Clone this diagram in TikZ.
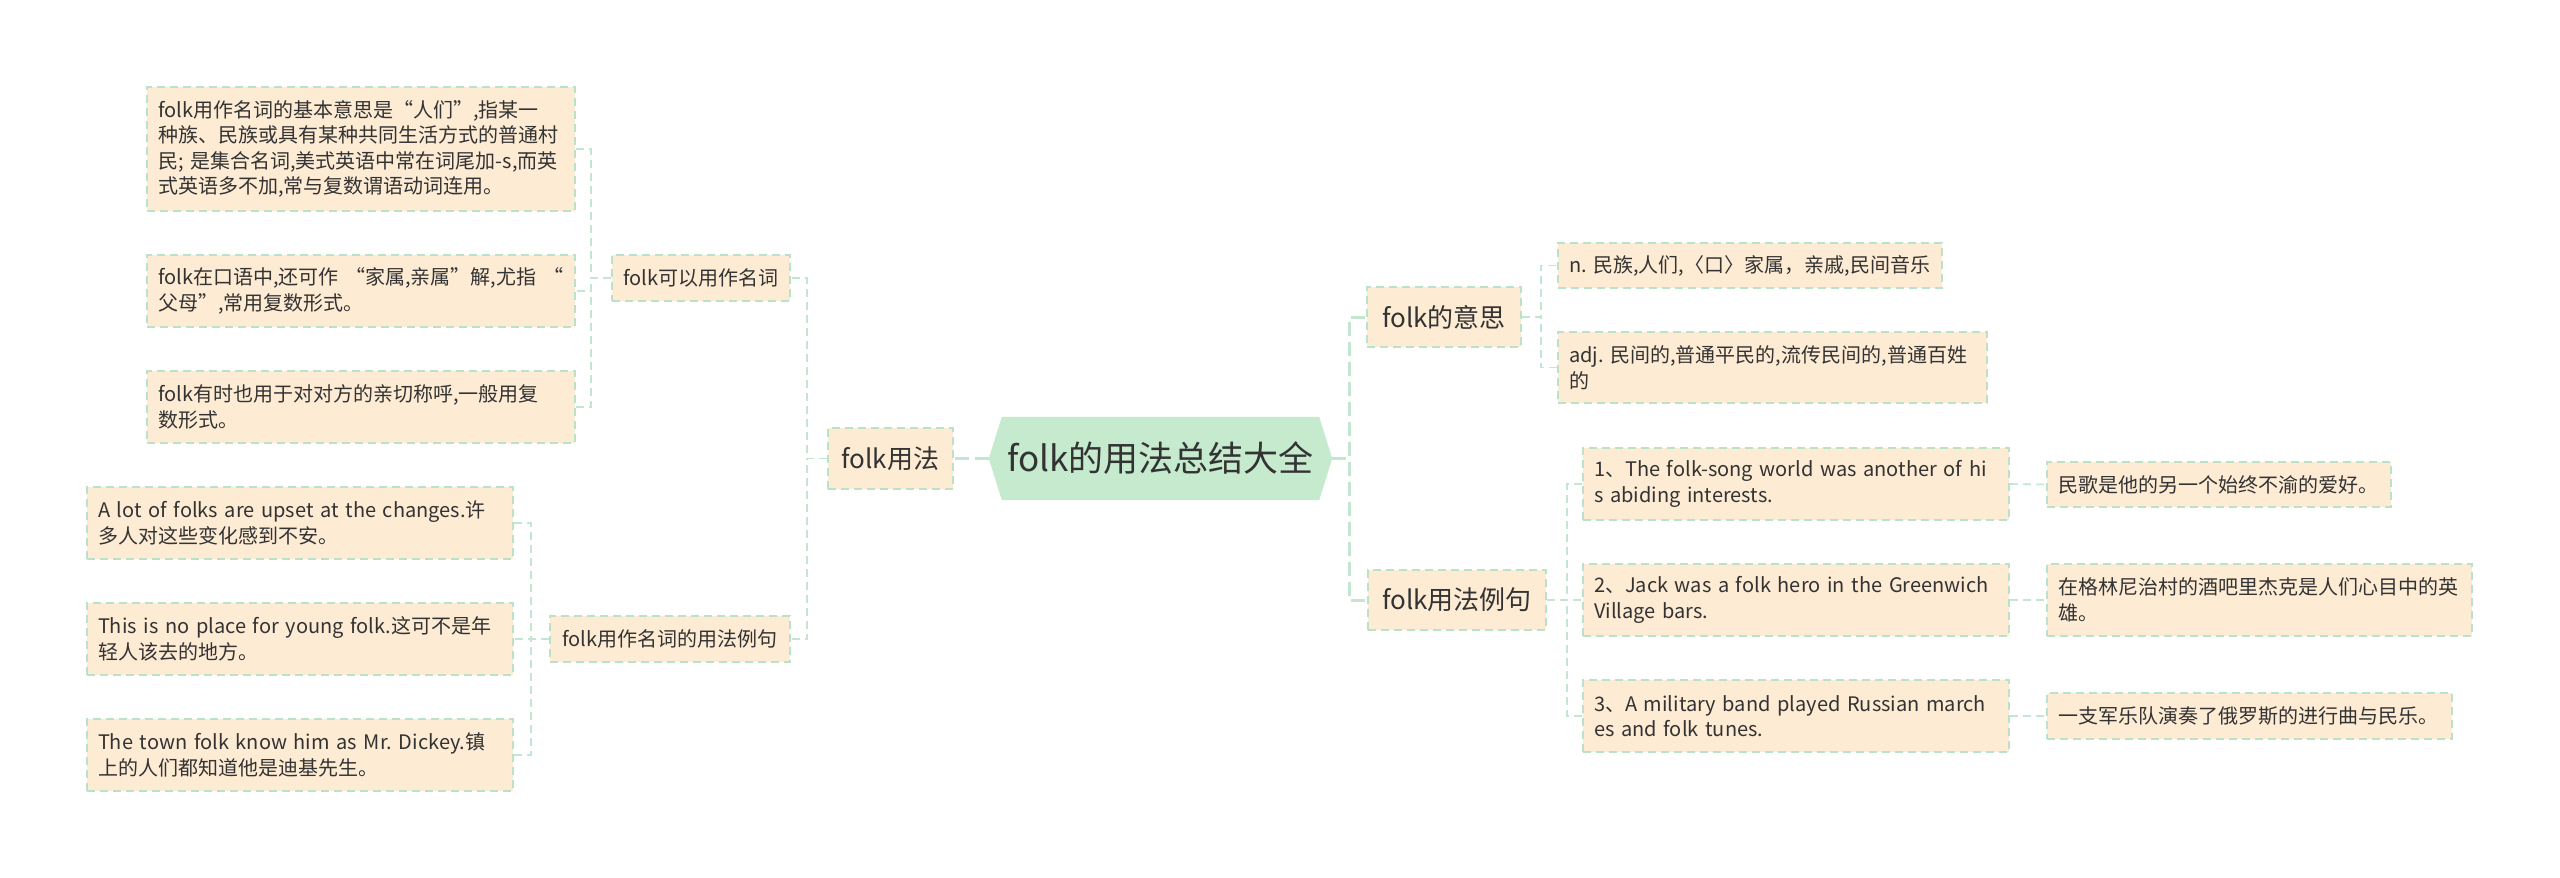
\documentclass[tikz,border=0pt]{standalone}
\usepackage{fontspec}
\setmainfont{Noto Sans CJK SC}
\frenchspacing
\definecolor{boxfill}{HTML}{FDEBD4}
\definecolor{boxline}{HTML}{B9E2C8}
\definecolor{conn}{HTML}{C2E6CF}
\definecolor{hexfill}{HTML}{C5EACE}
\definecolor{txt}{HTML}{333333}
\tikzset{
  leaf/.style={draw=boxline, fill=boxfill, line width=1.6pt, dash pattern=on 8pt off 5pt,
    inner xsep=11pt, inner ysep=0pt, align=left, text=txt,
    font=\fontsize{20}{25.5}\selectfont, anchor=center},
  topic/.style={draw=boxline, fill=boxfill, line width=1.6pt, dash pattern=on 8pt off 5pt,
    inner xsep=0pt, inner ysep=0pt, align=center, text=txt,
    font=\fontsize{26}{30}\selectfont, anchor=center},
  thin/.style={draw=conn, line width=1.6pt, dash pattern=on 8pt off 5pt},
  thick/.style={draw=conn, line width=3pt, dash pattern=on 14pt off 6pt}
}
\begin{document}
\begin{tikzpicture}[x=1pt,y=-1pt]
\useasboundingbox (0,0) rectangle (2560,878);
\fill[white] (0,0) rectangle (2560,878);

% root hexagon
\node[minimum width=343pt, minimum height=83pt, inner sep=0pt, text=txt,
  font=\fontsize{35}{40}\selectfont] (root) at (1160.5,458.5) {};
\fill[hexfill] (root.west) -- ([xshift=13pt]root.north west) -- ([xshift=-13pt]root.north east)
  -- (root.east) -- ([xshift=-13pt]root.south east) -- ([xshift=13pt]root.south west) -- cycle;
\node[text=txt, font=\fontsize{35}{40}\selectfont, inner sep=0pt] (roottext) at (root.center) {folk的用法总结大全};

% left side
\node[topic, minimum width=125pt, minimum height=61pt] (L1) at (890.5,458.5) {folk用法};
\node[topic, minimum width=178pt, minimum height=46pt, font=\fontsize{20}{25.5}\selectfont] (L2a) at (701,278) {folk可以用作名词};
\node[topic, minimum width=240pt, minimum height=46pt, font=\fontsize{20}{25.5}\selectfont] (L2b) at (670,639) {folk用作名词的用法例句};

\node[leaf, text width=406pt, minimum height=124pt] (L3a1) at (361,149)
  {folk用作名词的基本意思是“人们”,指某一\\种族、民族或具有某种共同生活方式的普通村\\民; 是集合名词,美式英语中常在词尾加-s,而英\\式英语多不加,常与复数谓语动词连用。};
\node[leaf, text width=406pt, minimum height=72pt] (L3a2) at (361,291)
  {folk在口语中,还可作 “家属,亲属”解,尤指 “\\父母”,常用复数形式。};
\node[leaf, text width=406pt, minimum height=72pt] (L3a3) at (361,407)
  {folk有时也用于对对方的亲切称呼,一般用复\\数形式。};

\node[leaf, text width=404pt, minimum height=72pt] (L3b1) at (300,523)
  {A lot of folks are upset at the changes.许\\多人对这些变化感到不安。};
\node[leaf, text width=404pt, minimum height=72pt] (L3b2) at (300,639)
  {This is no place for young folk.这可不是年\\轻人该去的地方。};
\node[leaf, text width=404pt, minimum height=72pt] (L3b3) at (300,755)
  {The town folk know him as Mr. Dickey.镇\\上的人们都知道他是迪基先生。};

% right side
\node[topic, minimum width=154pt, minimum height=60pt] (R1a) at (1444,317) {folk的意思};
\node[topic, minimum width=178pt, minimum height=60pt] (R1b) at (1457,600) {folk用法例句};

\node[leaf, text width=362pt, minimum height=45pt] (R2a) at (1750,265.5)
  {n. 民族,人们,〈口〉家属，亲戚,民间音乐};
\node[leaf, text width=407pt, minimum height=71pt] (R2b) at (1772.5,367.5)
  {adj. 民间的,普通平民的,流传民间的,普通百姓\\的};

\node[leaf, text width=404pt, minimum height=72pt] (R2c) at (1796,484)
  {1、The folk-song world was another of hi\\s abiding interests.};
\node[leaf, text width=404pt, minimum height=72pt] (R2d) at (1796,600)
  {2、Jack was a folk hero in the Greenwich\\Village bars.};
\node[leaf, text width=404pt, minimum height=72pt] (R2e) at (1796,716)
  {3、A military band played Russian march\\es and folk tunes.};

\node[leaf, text width=322pt, minimum height=45pt] (R3a) at (2219,484.5)
  {民歌是他的另一个始终不渝的爱好。};
\node[leaf, text width=403pt, minimum height=72pt] (R3b) at (2259.5,600)
  {在格林尼治村的酒吧里杰克是人们心目中的英\\雄。};
\node[leaf, text width=383pt, minimum height=46pt] (R3c) at (2249.5,716)
  {一支军乐队演奏了俄罗斯的进行曲与民乐。};

% connectors
\draw[thick] (root.west) -- (L1.east);
\draw[thick] (root.east) -- ++(17,0) |- (R1a.west);
\draw[thick] (root.east) -- ++(17,0) |- (R1b.west);

\draw[thin] (L1.west) -- ++(-20,0) |- (L2a.east);
\draw[thin] (L1.west) -- ++(-20,0) |- (L2b.east);
\draw[thin] (L2a.west) -- ++(-20,0) |- (L3a1.east);
\draw[thin] (L2a.west) -- ++(-20,0) |- (L3a2.east);
\draw[thin] (L2a.west) -- ++(-20,0) |- (L3a3.east);
\draw[thin] (L2b.west) -- ++(-18,0) |- (L3b1.east);
\draw[thin] (L2b.west) -- ++(-18,0) |- (L3b2.east);
\draw[thin] (L2b.west) -- ++(-18,0) |- (L3b3.east);

\draw[thin] (R1a.east) -- ++(19,0) |- (R2a.west);
\draw[thin] (R1a.east) -- ++(19,0) |- (R2b.west);
\draw[thin] (R1b.east) -- ++(20,0) |- (R2c.west);
\draw[thin] (R1b.east) -- ++(20,0) |- (R2d.west);
\draw[thin] (R1b.east) -- ++(20,0) |- (R2e.west);

\draw[thin] (R2c.east) -- (R3a.west);
\draw[thin] (R2d.east) -- (R3b.west);
\draw[thin] (R2e.east) -- (R3c.west);
\end{tikzpicture}
\end{document}
